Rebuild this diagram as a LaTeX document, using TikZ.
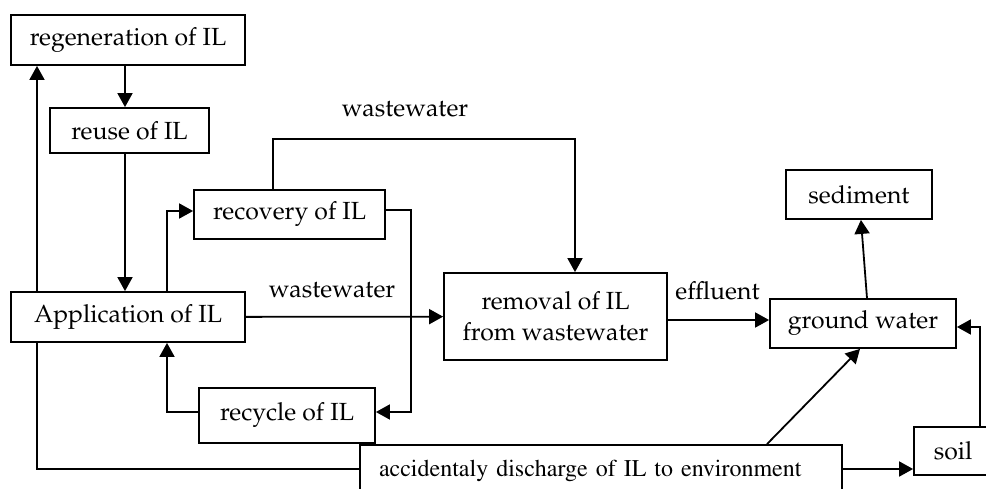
\documentclass[tikz,border=0pt]{standalone}
\usepackage[T1]{fontenc}
\usepackage{mathpazo}
\usepackage{xcolor}
\usepackage{tikz}
\usetikzlibrary{arrows.meta, positioning}

\begin{document}
\begin{tikzpicture}[x=1pt, y=-1pt, line width=1.8pt,
        >={Triangle[length=14pt, width=15pt]},
        txt/.style={font=\fontsize{24.8}{31}\selectfont, align=center, inner sep=0pt},
        box/.style={txt, draw, rectangle}]
        \useasboundingbox (0,0) rectangle (986,488);
        \clip (0,0) rectangle (986,488);

        \node[box, minimum width=234, minimum height=50] (regen)    at (128,40)    {regeneration of IL};
        \node[box, minimum width=159, minimum height=45] (reuse)    at (129.5,130.5) {reuse of IL};
        \node[box, minimum width=191, minimum height=49] (recovery) at (289.5,214.5) {recovery of IL};
        \node[box, minimum width=234, minimum height=50] (app)      at (128,317)   {Application of IL};
        \node[box, minimum width=176, minimum height=55] (recycle)  at (287,415.5) {recycle of IL};
        \node[box, minimum width=223, minimum height=87] (removal)  at (555.5,316.5) {removal of IL\\from wastewater};
        \node[box, minimum width=146, minimum height=49] (sediment) at (859,194.5) {sediment};
        \node[box, minimum width=186, minimum height=49] (ground)   at (863,323.5) {ground water};
        \node[box, minimum width=78, minimum height=48]  (soil)     at (953,451)   {soil};
        \node[box, font=\fontfamily{ptm}\fontsize{24}{29}\selectfont, text width=444, inner xsep=19,
            align=left, minimum height=52] (disc) at (601,471)
            {accidentaly discharge of IL to environment};

        \node[txt] (ww1) at (405,109) {wastewater};
        \node[txt] (ww2) at (332,290) {wastewater};
        \node[txt] (eff) at (717.5,291) {effluent};

        % straight arrows
        \draw[->] ([xshift=-3pt]regen.south) -- ([xshift=-4.5pt]reuse.north);
        \draw[->] ([xshift=-91pt]app.north) -- ([xshift=-91pt]regen.south);
        \draw[->] ([xshift=-4.5pt]reuse.south) -- ([xshift=-3pt]app.north);
        \draw[->] (app) -- (removal);
        \draw[->] ([yshift=-3.5pt]removal.east) -- ([yshift=3.5pt]ground.west);
        \draw[->] ([xshift=4pt]ground.north) -- (sediment);
        \draw[->] ([xshift=166pt]disc.north) -- ([xshift=-3pt]ground.south);
        \draw[->] ([yshift=2pt]disc.east) -- ([yshift=-18pt]soil.west);

        % bent arrows
        \draw[->] ([xshift=39pt]app.north) |- ([yshift=3.5pt]recovery.west);
        \draw[->] ([yshift=4.5pt]recovery.east) -- ++(25,0) |- ([yshift=3.5pt]recycle.east);
        \draw[->] ([yshift=3.5pt]recycle.west) -| ([xshift=39pt]app.south);
        \draw[->] ([xshift=-16.5pt]recovery.north) -- ++(0,-50) -| ([xshift=19.5pt]removal.north);
        \draw[->] ([xshift=27pt]soil.north) |- ([yshift=-3.5pt]ground.east);
        \draw ([xshift=-91pt]app.south) |- ([yshift=2pt]disc.west);

    \end{tikzpicture}
\end{document}
